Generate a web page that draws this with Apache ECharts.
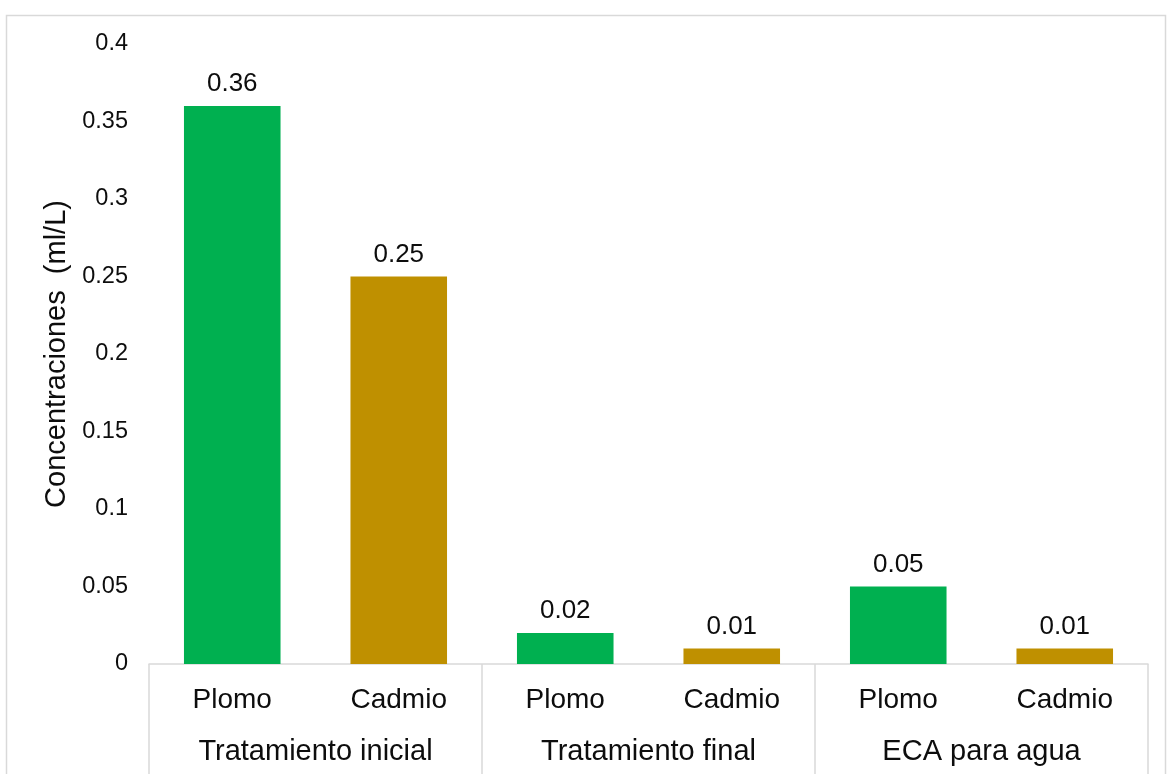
<!DOCTYPE html>
<html>
<head>
<meta charset="utf-8">
<script src="https://cdn.jsdelivr.net/npm/echarts@6/dist/echarts.min.js"></script>
<style>
  html, body { margin: 0; padding: 0; background: #ffffff; }
  #chart { width: 1167px; height: 774px; }
</style>
</head>
<body>
<div id="chart"></div>
<script>
// Metal measured in each bar, and the group each pair of bars belongs to
const metals = ['Plomo', 'Cadmio', 'Plomo', 'Cadmio', 'Plomo', 'Cadmio'];
const groups = ['Tratamiento inicial', 'Tratamiento final', 'ECA para agua'];
// Concentration (ml/L) for each bar, in the same order as metals
const concentrations = [0.36, 0.25, 0.02, 0.01, 0.05, 0.01];
// Y axis range and step
const yMin = 0;
const yMax = 0.4;
const yStep = 0.05;

const metalColors = { 'Plomo': '#00B050', 'Cadmio': '#BF9000' };
const textColor = '#0d0d0d';
const lineColor = '#d9d9d9';
const font = 'Liberation Sans, Arial, sans-serif';

const chart = echarts.init(document.getElementById('chart'), null, { renderer: 'canvas' });

chart.setOption({
  animation: false,
  backgroundColor: '#ffffff',
  textStyle: { fontFamily: font },
  graphic: [{
    type: 'rect',
    silent: true,
    shape: { x: 6.5, y: 15.5, width: 1159, height: 800 },
    style: { fill: 'none', stroke: lineColor, lineWidth: 1.5 }
  }],
  grid: { left: 149, right: 19, top: 44, bottom: 110, containLabel: false },
  xAxis: [
    {
      type: 'category',
      data: metals,
      position: 'bottom',
      axisLine: { show: true, lineStyle: { color: lineColor, width: 1.5 } },
      axisTick: { show: false },
      axisLabel: { margin: 22, fontSize: 28, color: textColor, fontFamily: font, interval: 0 }
    },
    {
      type: 'category',
      data: groups,
      position: 'bottom',
      axisLine: { show: false },
      axisTick: { show: true, length: 112, lineStyle: { color: lineColor, width: 1.5 } },
      axisLabel: { margin: 73, fontSize: 29, color: textColor, fontFamily: font, interval: 0 }
    }
  ],
  yAxis: {
    type: 'value',
    min: yMin,
    max: yMax,
    interval: yStep,
    name: 'Concentraciones  (ml/L)',
    nameLocation: 'middle',
    nameGap: 78,
    nameTextStyle: { fontSize: 29, color: textColor, fontFamily: font },
    axisLine: { show: false },
    axisTick: { show: false },
    splitLine: { show: false },
    axisLabel: { margin: 21, fontSize: 23.5, color: textColor, fontFamily: font, padding: [4, 0, 0, 0] }
  },
  series: [{
    type: 'bar',
    xAxisIndex: 0,
    data: concentrations,
    barCategoryGap: '42%',
    itemStyle: {
      color: function (p) { return metalColors[metals[p.dataIndex]]; }
    },
    label: {
      show: true,
      position: 'top',
      distance: 9,
      fontSize: 26,
      color: textColor,
      fontFamily: font,
      formatter: function (p) { return String(p.value); }
    }
  }]
});
</script>
</body>
</html>
